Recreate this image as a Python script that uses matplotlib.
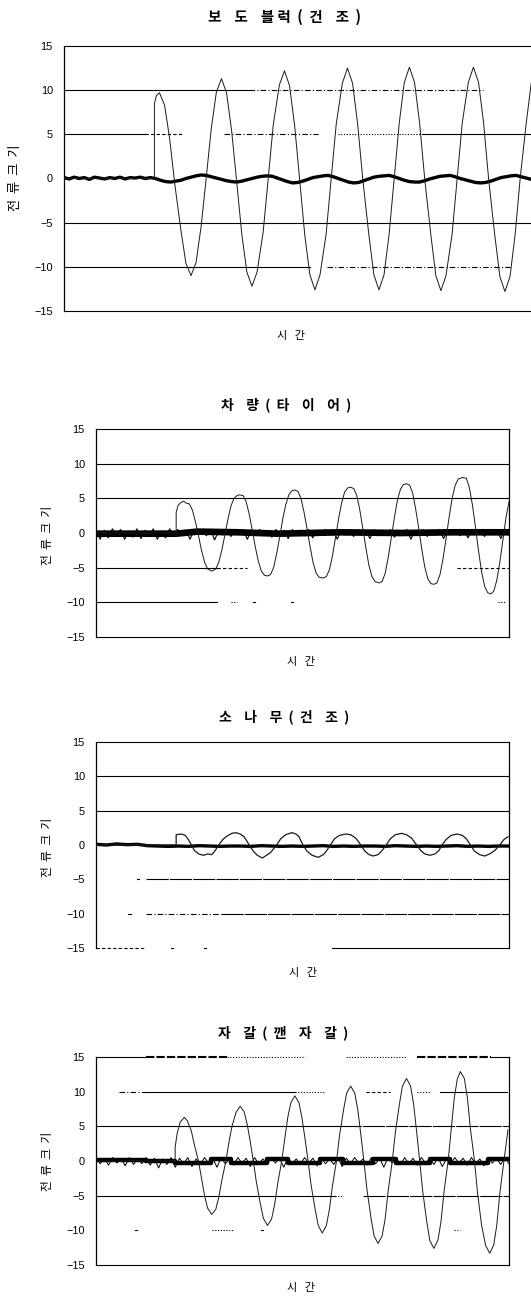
import numpy as np
import matplotlib
matplotlib.use("Agg")
import matplotlib.pyplot as plt

KR = ['Noto Sans CJK KR', 'DejaVu Sans']
plt.rcParams['font.family'] = ['Liberation Sans', 'DejaVu Sans']

# ---------------- data (time in arbitrary units, current in the chart's units) ----------------
titles = ["보    도    블 럭  (  건    조  )", "차    량  (  타    이    어  )",
          "소    나    무  (  건    조  )", "자    갈  (  깬    자    갈  )"]
ylabel = "전  류  크  기"
xlabel = "시   간"
yticks = [-15, -10, -5, 0, 5, 10, 15]

# panel 1 : 보도블럭(건조)
w1_t = [0, 89, 89, 91, 94, 99, 104, 109, 115, 120, 125, 130, 135, 140, 145, 150, 155, 160, 165, 170,
        175, 180, 185, 190, 196, 201, 206, 212, 217, 222, 227, 232, 237, 242, 247, 252, 258, 263, 268,
        274, 279, 284, 289, 294, 300, 305, 310, 315, 320, 325, 330, 335, 340, 345, 350, 355, 361, 366,
        371, 376, 382, 387, 392, 398, 403, 408, 413, 418, 424, 429, 434, 439, 444, 449, 455, 460, 465, 470]
w1_v = [0, 0, 8.5, 9.4, 9.7, 8.3, 4.5, -0.6, -5.8, -9.6, -11.0, -9.5, -5.4, 0.1, 5.7, 9.8, 11.3, 9.7,
        5.4, -0.4, -6.3, -10.6, -12.2, -10.6, -6.1, 0.0, 6.1, 10.6, 12.2, 10.5, 6.0, -0.2, -6.4, -10.9,
        -12.6, -10.9, -6.3, 0.0, 6.2, 10.8, 12.5, 10.8, 6.2, 0.0, -6.3, -10.9, -12.6, -10.9, -6.3, 0.0,
        6.3, 10.9, 12.6, 10.9, 6.3, 0.0, -6.3, -11.0, -12.7, -11.0, -6.3, 0.0, 6.3, 10.9, 12.6, 10.9,
        6.3, -0.1, -6.4, -11.1, -12.8, -11.1, -6.4, 0.0, 6.3, 10.9, 12.6, 10.9]
n1_v = [0.1, -0.05, 0.15, 0.0, 0.1, -0.1, 0.15, 0.05, -0.05, 0.1, 0.0, 0.15, -0.05, 0.1, 0.05, 0.15, 0.0, 0.1,
        0.0, -0.2, -0.35, -0.4, -0.3, -0.2, 0.0, 0.15, 0.3, 0.4, 0.35, 0.2, 0.05, -0.1, -0.25, -0.35, -0.4,
        -0.3, -0.15, 0.0, 0.15, 0.25, 0.3, 0.25, 0.05, -0.15, -0.35, -0.5, -0.45, -0.3, -0.1, 0.1, 0.2, 0.3,
        0.35, 0.2, 0.0, -0.2, -0.4, -0.5, -0.45, -0.25, -0.05, 0.15, 0.25, 0.3, 0.35, 0.2, 0.0, -0.2, -0.35,
        -0.4, -0.4, -0.25, -0.05, 0.1, 0.25, 0.3, 0.35, 0.2, 0.0, -0.15, -0.3, -0.45, -0.5, -0.45, -0.3,
        -0.1, 0.1, 0.2, 0.3, 0.35, 0.2, 0.05, -0.1, -0.25, -0.35]

# panel 2 : 차량(타이어)
w2_t = [0, 79, 79, 81, 83, 86, 89, 92, 95, 98, 101, 104, 107, 110, 114, 118, 121, 124, 127, 130, 133,
        136, 139, 141, 145, 148, 151, 154, 157, 160, 163, 166, 169, 172, 175, 178, 181, 184, 187, 190,
        193, 196, 199, 202, 205, 208, 211, 214, 217, 220, 224, 227, 230, 233, 236, 239, 242, 245, 248,
        251, 254, 257, 260, 263, 266, 269, 272, 275, 279, 282, 285, 288, 291, 294, 297, 300, 303, 306,
        309, 312, 315, 318, 321, 324, 327, 330, 333, 336, 339, 342, 345, 348, 351, 354, 357, 361, 365,
        368, 371, 374, 377, 380, 383, 386, 389, 392, 395, 398, 401, 404, 407]
w2_v = [0, 0, 3.0, 4.0, 4.3, 4.6, 4.3, 4.2, 3.3, 1.6, -0.4, -2.5, -4.2, -5.2, -5.5, -5.2, -4.2, -2.5,
        -0.3, 2.0, 3.9, 5.0, 5.4, 5.5, 5.4, 4.5, 2.7, 0.4, -2.0, -4.1, -5.5, -6.1, -6.2, -6.0, -5.0, -3.0,
        -0.6, 2.0, 4.1, 5.5, 6.1, 6.2, 6.0, 5.0, 3.0, 0.6, -2.0, -4.3, -5.8, -6.4, -6.5, -6.3, -5.3, -3.3,
        -0.7, 2.0, 4.3, 5.9, 6.5, 6.6, 6.4, 5.4, 3.3, 0.6, -2.2, -4.7, -6.3, -7.0, -7.2, -7.0, -5.8, -3.5,
        -0.7, 2.2, 4.7, 6.3, 7.0, 7.1, 6.9, 5.8, 3.5, 0.7, -2.3, -4.9, -6.6, -7.3, -7.4, -7.2, -6.0, -3.7,
        -0.8, 2.3, 5.0, 6.9, 7.8, 8.0, 7.9, 6.5, 4.0, 0.8, -2.6, -5.6, -7.7, -8.6, -8.8, -8.4, -6.8, -4.2,
        -1.0, 2.2, 4.5]
n2_v = [0.6, -0.9, 0.4, -0.7, 0.6, -0.3, 0.5, -0.9, 0.2, -0.6, 0.6, -0.8, 0.4, -0.5, 0.6, -0.9, 0.3, -0.7, 0.6, -0.4,
        0.5, -0.3, 0.4, -0.9, 0.5, -0.2, 0.4, -0.4, 0.5, -1.0, 0.3, -0.3, 0.5, -0.5, 0.4, -0.2, 0.5, -0.9, 0.4, -0.3,
        0.5, -0.4, 0.3, -0.6, 0.5, -0.2, 0.4, -0.8, 0.5, -0.3, 0.4, -0.4, 0.5, -0.7, 0.3, -0.3, 0.5, -0.2, 0.4, -0.9,
        0.5, -0.3, 0.4, -0.5, 0.5, -0.2, 0.3, -0.8, 0.5, -0.4, 0.4, -0.3, 0.5, -0.6, 0.4, -0.2, 0.5, -0.9, 0.4, -0.3,
        0.5, -0.5, 0.4, -0.3, 0.5, -0.8, 0.4, -0.2, 0.5, -0.4, 0.3, -0.7, 0.5, -0.3, 0.4, -0.5, 0.5, -0.2, 0.4, -0.8,
        0.5, -0.3]
b2_t = [0, 79, 100, 140, 180, 240, 300, 350, 407]
b2_v = [-0.1, -0.1, 0.2, 0.1, -0.1, 0.1, 0.0, 0.1, 0.1]

# panel 3 : 소나무(건조)
w3_t = [0, 79, 79, 84, 88, 91, 94, 97, 101, 106, 110, 114, 117, 121, 125, 129, 134, 138, 142, 146,
        151, 155, 159, 164, 168, 172, 178, 182, 187, 193, 197, 200, 204, 208, 213, 219, 224, 227, 231,
        235, 240, 246, 251, 256, 261, 265, 269, 273, 278, 282, 286, 290, 295, 301, 306, 311, 316, 320,
        324, 329, 334, 338, 341, 345, 350, 356, 361, 365, 369, 373, 378, 383, 388, 393, 398, 402, 406]
w3_v = [0, 0, 1.5, 1.6, 1.4, 0.8, 0, -0.8, -1.3, -1.5, -1.3, -1.4, -0.9, 0, 0.8, 1.3, 1.7, 1.8, 1.6,
        1.2, 0, -0.9, -1.5, -1.9, -1.5, -1.1, 0, 0.9, 1.5, 1.8, 1.6, 1.2, 0, -0.9, -1.5, -1.8, -1.4, -0.9,
        0, 0.9, 1.4, 1.6, 1.5, 1.0, 0, -0.9, -1.4, -1.6, -1.4, -0.8, 0, 0.9, 1.5, 1.7, 1.5, 1.0, 0, -0.8,
        -1.3, -1.5, -1.3, -0.8, 0, 0.8, 1.4, 1.6, 1.4, 0.9, 0, -0.9, -1.4, -1.6, -1.3, -0.8, 0, 0.8, 1.2]
n3_v = [0.1, 0.0, 0.15, 0.05, 0.1, -0.1, -0.15, -0.2, -0.15, -0.2, -0.1, -0.15, -0.2, -0.15, -0.15,
        -0.2, -0.1, -0.15, -0.2, -0.15, -0.2, -0.15, -0.1, -0.2, -0.15, -0.2, -0.15, -0.15, -0.2, -0.1,
        -0.15, -0.2, -0.15, -0.2, -0.15, -0.1, -0.2, -0.15, -0.2, -0.15, -0.15]

# panel 4 : 자갈(깬자갈)
w4_t = [0, 78, 78, 80, 83, 87, 90, 94, 97, 101, 104, 107, 110, 114, 118, 121, 124, 128, 131, 134,
        138, 142, 146, 149, 152, 155, 158, 162, 165, 169, 173, 176, 179, 183, 186, 189, 192, 196, 200,
        203, 206, 209, 212, 216, 219, 223, 227, 230, 233, 237, 240, 244, 247, 251, 255, 258, 261, 264,
        267, 271, 274, 278, 282, 285, 288, 292, 295, 299, 302, 306, 310, 313, 316, 319, 322, 326, 329,
        333, 337, 340, 343, 347, 350, 353, 356, 359, 363, 366, 369, 373, 376, 380, 384, 388, 392, 395,
        398, 402, 406]
w4_v = [0, 0, 2.0, 4.0, 5.6, 6.3, 5.8, 4.3, 2.3, 0, -2.5, -5.0, -6.8, -7.7, -7.0, -5.2, -2.8, 0, 2.7,
        5.0, 7.0, 7.9, 7.1, 5.3, 2.8, 0, -3.0, -6.2, -8.3, -9.3, -8.4, -6.3, -3.3, 0, 3.2, 6.3, 8.4, 9.4,
        8.4, 6.2, 3.2, 0, -3.5, -7.0, -9.3, -10.4, -9.3, -7.0, -3.6, 0, 3.7, 7.4, 9.8, 10.8, 9.8, 7.4,
        3.8, 0, -4.1, -8.2, -10.8, -11.9, -10.8, -8.3, -4.2, 0, 4.1, 8.2, 10.8, 11.9, 10.8, 8.2, 4.2, 0,
        -4.4, -8.8, -11.5, -12.6, -11.4, -8.7, -4.4, 0, 4.5, 9.0, 11.8, 12.9, 11.9, 9.1, 4.6, 0, -4.6,
        -9.3, -12.2, -13.3, -12.1, -9.2, -4.6, 0, 4.5]
n4_v = [0.5, -0.4, 0.4, -0.6, 0.5, -0.3, 0.4, -0.7, 0.5, -0.5, 0.3, -0.4, 0.5, -0.6, 0.4, -1.0, 0.3, -0.5, 0.5, -0.9,
        0.4, -0.4, 0.5, -0.8, 0.3, -0.5, 0.5, -0.3, 0.4, -0.9, 0.5, -0.4, 0.3, -0.6, 0.5, -0.3, 0.4, -0.8, 0.5, -0.4,
        0.3, -0.5, 0.5, -0.3, 0.4, -0.9, 0.5, -0.4, 0.3, -0.5, 0.5, -0.3, 0.4, -0.7, 0.5, -0.4, 0.3, -0.5, 0.5, -0.8,
        0.4, -0.4, 0.5, -0.3, 0.3, -0.6, 0.5, -0.4, 0.4, -0.9, 0.5, -0.3, 0.3, -0.5, 0.5, -0.4, 0.4, -0.6, 0.5, -0.3,
        0.4, -0.5, 0.5, -0.8, 0.3, -0.4, 0.5, -0.3, 0.4, -0.6, 0.5, -0.4, 0.3, -0.7, 0.5, -0.3, 0.4, -0.5, 0.5, -0.4]
b4_t = [0, 49, 49, 78, 78, 113, 113, 133, 133, 169, 169, 189, 189, 221, 221, 243, 243, 273, 273, 296,
        296, 329, 329, 349, 349, 386, 386, 406]
b4_v = [0.1, 0.1, 0.0, 0.0, -0.3, -0.3, 0.35, 0.35, -0.3, -0.3, 0.35, 0.35, -0.3, -0.3, 0.35, 0.35,
        -0.3, -0.3, 0.35, 0.35, -0.3, -0.3, 0.35, 0.35, -0.3, -0.3, 0.35, 0.35]

# ---------------- look of the scanned grid lines (style only) ----------------
STY = {'-': ('-', 0.8), 'dd': ((0, (5, 2, 1, 2)), 0.8), 'da': ((0, (3, 2)), 0.8),
       'do': ((0, (1, 1.5)), 0.8), 'ds': ((0, (20, 1)), 0.8), 'tk': ((0, (4, 1)), 1.5)}
grid1 = [(15, 0, 470, '-'), (10, 0, 182, '-'), (10, 182, 412, 'dd'), (5, 0, 80, '-'), (5, 80, 117, 'da'),
         (5, 157, 250, 'dd'), (5, 270, 353, 'do'), (5, 353, 470, '-'), (-5, 0, 470, '-'),
         (-10, 0, 242, '-'), (-10, 259, 439, 'dd'), (-15, 0, 470, '-')]
grid2 = [(15, 0, 407, '-'), (10, 0, 407, '-'), (5, 0, 407, '-'), (-5, 0, 119, '-'), (-5, 119, 149, 'da'),
         (-5, 356, 407, 'da'), (-10, 0, 119, '-'), (-10, 133, 139, 'do'), (-10, 155, 157, '-'),
         (-10, 192, 194, '-'), (-10, 396, 403, 'do'), (-15, 0, 407, '-')]
grid3 = [(15, 0, 407, '-'), (10, 0, 407, '-'), (5, 0, 407, '-'), (-5, 40, 42, '-'), (-5, 49, 407, 'ds'),
         (-10, 32, 34, '-'), (-10, 49, 123, 'dd'), (-10, 123, 407, 'ds'), (-15, 0, 49, 'da'),
         (-15, 74, 76, '-'), (-15, 106, 108, '-'), (-15, 233, 407, '-')]
grid4 = [(15, 0, 49, '-'), (15, 49, 129, 'tk'), (15, 129, 206, 'do'), (15, 246, 306, 'do'),
         (15, 316, 389, 'tk'), (15, 389, 407, '-'), (10, 23, 49, 'dd'), (10, 49, 196, '-'),
         (10, 196, 226, 'do'), (10, 266, 290, 'da'), (10, 316, 329, 'do'), (10, 339, 405, '-'),
         (5, 0, 239, '-'), (5, 239, 407, 'ds'), (-5, 0, 236, '-'), (-5, 236, 243, 'do'),
         (-5, 263, 407, 'ds'), (-10, 38, 40, '-'), (-10, 114, 136, 'do'), (-10, 163, 165, '-'),
         (-10, 353, 359, 'do'), (-15, 0, 407, '-')]

W, H = 531, 1296
fig = plt.figure(figsize=(W / 100, H / 100), dpi=100)


def make_ax(left, right, top, bottom):
    return fig.add_axes([left / W, 1 - bottom / H, (right - left) / W, (bottom - top) / H])


panels = [
    dict(box=(64, 541.5, 46, 311), tmax=470, grid=grid1, right=False, tfs=10.5,
         title_xy=(285, 17), xl_xy=(291, 336), yl_xy=(15, 178), fs=7.8, yfs=9.5),
    dict(box=(96, 509, 429, 637), tmax=407, grid=grid2, right=True, tfs=10,
         title_xy=(286, 405), xl_xy=(301, 662), yl_xy=(47, 535), fs=7.8, yfs=8.5),
    dict(box=(96, 509, 742, 948), tmax=407, grid=grid3, right=True, tfs=10,
         title_xy=(284, 717), xl_xy=(303, 973), yl_xy=(47, 847), fs=7.8, yfs=8.5),
    dict(box=(96, 509, 1057, 1265), tmax=407, grid=grid4, right=True, tfs=10,
         title_xy=(283, 1033), xl_xy=(301, 1288), yl_xy=(47, 1161), fs=7.8, yfs=8.5),
]

axes = []
for i, p in enumerate(panels):
    ax = make_ax(*p['box'])
    ax.set_xlim(0, p['tmax'])
    ax.set_ylim(-15, 15)
    for s in ax.spines.values():
        s.set_visible(False)
    ax.set_xticks([])
    ax.set_yticks(yticks)
    ax.tick_params(axis='y', length=0, pad=8, labelsize=p['fs'])
    # scanned grid lines
    for y, t0, t1, st in p['grid']:
        ls, lw = STY[st]
        ax.plot([t0, t1], [y, y], color='black', lw=lw, ls=ls, clip_on=False, zorder=1)
    ax.plot([0, 0], [-15, 15], color='black', lw=0.9, clip_on=False, zorder=1)
    if p['right']:
        ax.plot([p['tmax'], p['tmax']], [-15, 15], color='black', lw=0.9, clip_on=False, zorder=1)
    fig.text(p['title_xy'][0] / W, 1 - p['title_xy'][1] / H, titles[i], family=KR,
             fontsize=p['tfs'], fontweight='bold', ha='center', va='center')
    fig.text(p['xl_xy'][0] / W, 1 - p['xl_xy'][1] / H, xlabel, family=KR,
             fontsize=8, ha='center', va='center')
    fig.text(p['yl_xy'][0] / W, 1 - p['yl_xy'][1] / H, ylabel, family=KR,
             fontsize=p['yfs'], rotation=90, ha='center', va='center')
    axes.append(ax)

ax1, ax2, ax3, ax4 = axes

# panel 1
ax1.plot(np.linspace(0, 470, len(n1_v)), n1_v, color='black', lw=2.4, zorder=3)
ax1.plot(w1_t, w1_v, color='#1a1a1a', lw=0.7, zorder=4)

# panel 2
ax2.plot(np.linspace(0, 407, len(n2_v)), n2_v, color='black', lw=0.8, zorder=3)
ax2.plot(b2_t, b2_v, color='black', lw=4.8, zorder=3)
ax2.plot(w2_t, w2_v, color='#1a1a1a', lw=0.7, zorder=4)

# panel 3
ax3.plot(np.linspace(0, 407, len(n3_v)), n3_v, color='black', lw=2.4, zorder=3)
ax3.plot(w3_t, w3_v, color='#1a1a1a', lw=0.9, zorder=4)

# panel 4
ax4.plot(np.linspace(0, 407, len(n4_v)), n4_v, color='black', lw=0.7, zorder=3)
ax4.plot(b4_t, b4_v, color='black', lw=3.2, zorder=3)
ax4.plot(w4_t, w4_v, color='#1a1a1a', lw=0.7, zorder=4)

fig.savefig('out.png', dpi=100, facecolor='white')
